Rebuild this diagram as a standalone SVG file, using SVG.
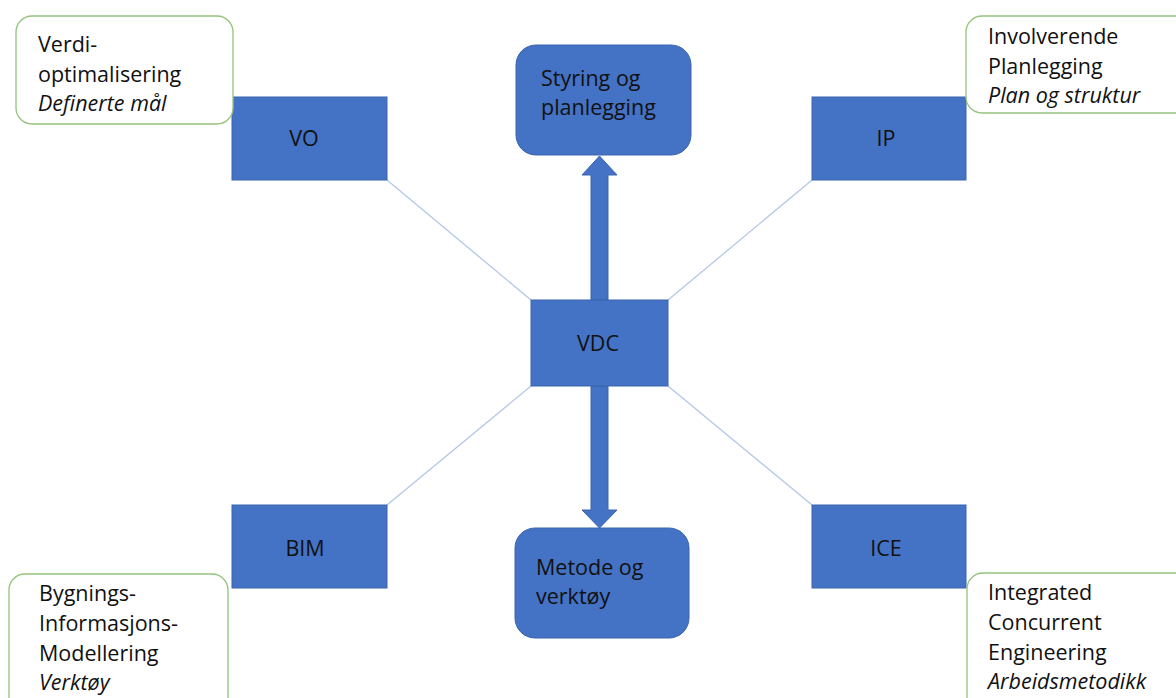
<svg xmlns="http://www.w3.org/2000/svg" width="1176" height="698" viewBox="0 0 1176 698">
  <style>
    .box { fill: #4472C4; stroke: #3A64AE; stroke-width: 1; }
    .note { fill: #FFFFFF; stroke: #93C47D; stroke-width: 1.3; }
    .link { stroke: #B4C7E7; stroke-width: 1.3; fill: none; }
    .flow { fill: #4472C4; stroke: #3A64AE; stroke-width: 1; }
    text { font-family: "Open Sans", "Liberation Sans", sans-serif; font-size: 21.5px; fill: #111111; }
    .lbl { font-size: 21.5px; }
    .it { font-style: italic; }
    .mid { text-anchor: middle; }
  </style>
  <rect width="1176" height="698" fill="#FFFFFF"/>

  <!-- thin links from the four corner boxes to VDC -->
  <g id="connectors">
    <line class="link" x1="387" y1="180" x2="531" y2="300"/>
    <line class="link" x1="812" y1="180" x2="668" y2="300"/>
    <line class="link" x1="387" y1="505" x2="531" y2="386"/>
    <line class="link" x1="812" y1="505" x2="668" y2="386"/>
    <!-- block arrows up and down from VDC -->
    <polygon class="flow" points="591,300 591,175 582,175 599.5,156 617,175 608,175 608,300"/>
    <polygon class="flow" points="591,386 591,510 582,510 599.5,528 617,510 608,510 608,386"/>
  </g>

  <g id="styring">
    <rect class="box" x="516" y="45" width="175" height="110" rx="20"/>
    <text class="lbl" x="541" y="86">Styring og</text>
    <text class="lbl" x="541" y="115">planlegging</text>
  </g>

  <g id="metode">
    <rect class="box" x="515" y="528" width="174" height="110" rx="20"/>
    <text class="lbl" x="536" y="575">Metode og</text>
    <text class="lbl" x="536" y="604">verktøy</text>
  </g>

  <g id="vdc">
    <rect class="box" x="531" y="300" width="137" height="86"/>
    <text class="lbl mid" x="598" y="351">VDC</text>
  </g>

  <g id="vo">
    <rect class="box" x="232" y="97" width="155" height="83"/>
    <text class="lbl mid" x="304" y="146">VO</text>
  </g>

  <g id="ip">
    <rect class="box" x="812" y="97" width="154" height="83"/>
    <text class="lbl mid" x="886" y="146">IP</text>
  </g>

  <g id="bim">
    <rect class="box" x="232" y="505" width="155" height="83"/>
    <text class="lbl mid" x="305" y="556">BIM</text>
  </g>

  <g id="ice">
    <rect class="box" x="812" y="505" width="154" height="83"/>
    <text class="lbl mid" x="886" y="556">ICE</text>
  </g>

  <g id="note-vo">
    <rect class="note" x="16" y="16" width="217" height="108" rx="16"/>
    <text x="38" y="52">Verdi-</text>
    <text x="38" y="82">optimalisering</text>
    <text class="it" x="38" y="111">Definerte mål</text>
  </g>

  <g id="note-ip">
    <rect class="note" x="966" y="16" width="230" height="97" rx="16"/>
    <text x="988" y="44">Involverende</text>
    <text x="988" y="74">Planlegging</text>
    <text class="it" x="988" y="103">Plan og struktur</text>
  </g>

  <g id="note-bim">
    <rect class="note" x="9" y="574" width="219" height="140" rx="16"/>
    <text x="39" y="601">Bygnings-</text>
    <text x="39" y="631">Informasjons-</text>
    <text x="39" y="661">Modellering</text>
    <text class="it" x="39" y="690">Verktøy</text>
  </g>

  <g id="note-ice">
    <rect class="note" x="967" y="573" width="230" height="140" rx="16"/>
    <text x="988" y="600">Integrated</text>
    <text x="988" y="630">Concurrent</text>
    <text x="988" y="660">Engineering</text>
    <text class="it" x="988" y="689">Arbeidsmetodikk</text>
  </g>
</svg>
